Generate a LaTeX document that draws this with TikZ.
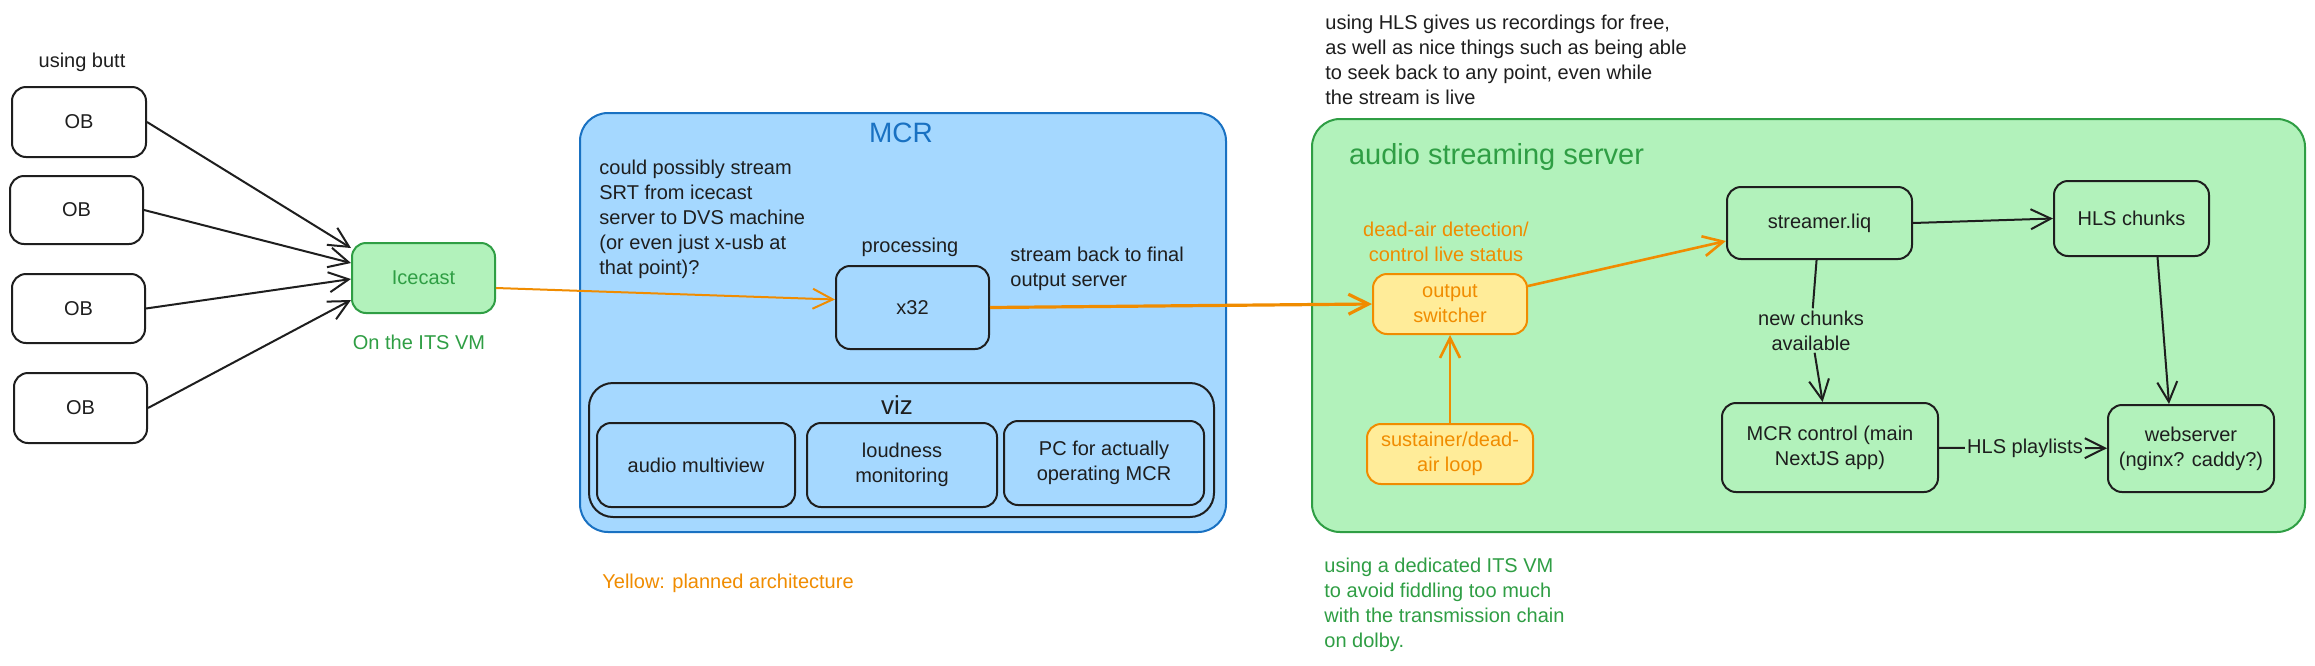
\documentclass[tikz,border=0pt]{standalone}
\usepackage{fontspec}
\setmainfont{Liberation Sans}
\usetikzlibrary{arrows.meta,positioning,calc}

\definecolor{inkblack}{HTML}{1E1E1E}
\definecolor{grnfill}{HTML}{B2F2BB}
\definecolor{grnline}{HTML}{2F9E44}
\definecolor{bluefill}{HTML}{A5D8FF}
\definecolor{blueline}{HTML}{1971C2}
\definecolor{yelfill}{HTML}{FFEC99}
\definecolor{orgline}{HTML}{F08C00}

\begin{document}
\begin{tikzpicture}[
    x=0.5pt, y=-0.5pt,
    font=\fontsize{10}{12.5}\selectfont,
    every node/.style={text=inkblack},
    box/.style={draw=inkblack, line width=1pt, rectangle, rounded corners=7pt, align=center, inner sep=2pt},
    planbox/.style={box, draw=orgline, fill=yelfill, text=orgline},
    flow/.style={-{Straight Barb[length=10pt,width=10pt]}, line width=1pt, draw=inkblack},
    planflow/.style={flow, draw=orgline, line width=1.3pt},
    note/.style={align=left, inner sep=0pt, anchor=west},
    title/.style={font=\fontsize{14}{17}\selectfont}
]
    \fill[white] (0,0) rectangle (2315,665);
    \useasboundingbox (0,0) rectangle (2315,665);

    % outside broadcasts
    \node (butt) at (82,62) {using butt};
    \node[box, minimum width=67pt, minimum height=35pt] (ob1) at (79,122) {OB};
    \node[box, minimum width=66.5pt, minimum height=34pt] (ob2) at (76.5,210) {OB};
    \node[box, minimum width=66.5pt, minimum height=34.5pt] (ob3) at (78.5,308.5) {OB};
    \node[box, minimum width=66.5pt, minimum height=35pt] (ob4) at (80.5,408) {OB};

    \node[box, draw=grnline, fill=grnfill, text=grnline, minimum width=71.5pt, minimum height=35pt] (ice) at (423.5,278) {Icecast};
    \node[text=grnline] (itsvm) at (419,342) {On the ITS VM};

    \draw[flow] (ob1.east) -- ($(ice.west)+(0,-30)$);
    \draw[flow] (ob2.east) -- ($(ice.west)+(0,-15)$);
    \draw[flow] (ob3.east) -- ($(ice.west)+(0,1)$);
    \draw[flow] (ob4.east) -- ($(ice.west)+(0,22)$);

    % MCR
    \node[draw=blueline, fill=bluefill, line width=1pt, rounded corners=14pt, minimum width=323pt, minimum height=209.5pt] (mcr) at (903,322.5) {};
    \node[title, text=blueline] (mcrtitle) at (901,133) {MCR};
    \node[note] (srtnote) at (599,219) {could possibly stream\\SRT from icecast\\server to DVS machine\\(or even just x-usb at\\that point)?};
    \node (processing) at (910,247) {processing};
    \node[box, minimum width=76.5pt, minimum height=41.5pt] (x32) at (912.5,307.5) {x32};
    \node[note] (backnote) at (1010,268.5) {stream back to final\\output server};

    \node[box, rounded corners=12pt, minimum width=312.5pt, minimum height=67pt] (viz) at (901.5,450) {};
    \node[title, font=\fontsize{13}{16}\selectfont] (viztitle) at (897,405) {viz};
    \node[box, minimum width=99pt, minimum height=42pt] (multiview) at (696,465) {audio multiview};
    \node[box, minimum width=95pt, minimum height=42pt] (loudness) at (902,465) {loudness\\monitoring};
    \node[box, minimum width=100pt, minimum height=42pt] (pcop) at (1104,463) {PC for actually\\operating MCR};

    % audio streaming server
    \node[note] (hlsnote) at (1325,60) {using HLS gives us recordings for free,\\as well as nice things such as being able\\to seek back to any point, even while\\the stream is live};
    \node[draw=grnline, fill=grnfill, line width=1pt, rounded corners=14pt, minimum width=496.5pt, minimum height=206.5pt] (server) at (1808.5,325.5) {};
    \node[title, font=\fontsize{14.5}{17}\selectfont, text=grnline, anchor=west] (servertitle) at (1342,157) {audio streaming server};

    \node[text=orgline, align=center] (deadair) at (1446,241.5) {dead-air detection/\\control live status};
    \node[planbox, minimum width=77pt, minimum height=30pt] (switcher) at (1450,304) {output\\switcher};
    \node[planbox, minimum width=83pt, minimum height=30pt] (sustainer) at (1450,454) {sustainer/dead-\\air loop};

    \node[box, minimum width=92.5pt, minimum height=36pt] (streamer) at (1819.5,223) {streamer.liq};
    \node[box, minimum width=77.5pt, minimum height=37.5pt] (hlschunks) at (2131.5,218.5) {HLS chunks};
    \node[box, minimum width=108pt, minimum height=44.5pt] (mcrctl) at (1830,447.5) {MCR control (main\\NextJS app)};
    \node[box, minimum width=83pt, minimum height=43.5pt] (webserver) at (2191,448.5) {webserver\\(nginx? caddy?)};

    \node[align=center, inner sep=1pt] (newchunks) at (1811,330.5) {new chunks\\available};
    \node[inner sep=1pt] (playlists) at (2025,448) {HLS playlists};

    \draw[planflow, line width=1pt] ($(ice.east)+(0,10)$) -- ($(x32.west)+(0,-8)$);
    \draw[planflow, line width=1.6pt] (x32.east) -- (switcher.west);
    \draw[planflow] (sustainer.north) -- (switcher.south);
    \draw[planflow] ($(switcher.east)+(0,-18)$) -- ($(streamer.west)+(0,18)$);

    \draw[flow] (streamer.east) -- (hlschunks.west);
    \draw[line width=1pt, draw=inkblack] (streamer) -- (newchunks);
    \draw[flow] (newchunks) -- (mcrctl);
    \draw[line width=1pt, draw=inkblack] (mcrctl) -- (playlists);
    \draw[flow] (playlists) -- (webserver);
    \draw[flow] ($(hlschunks.south)+(26,0)$) -- ($(webserver.north)+(-22,0)$);

    % notes
    \node[note, text=grnline] (vmnote) at (1324,604.5) {using a dedicated ITS VM\\to avoid fiddling too much\\with the transmission chain\\on dolby.};
    \node[note, text=orgline] (yellownote) at (602,583) {Yellow: planned architecture};
\end{tikzpicture}
\end{document}
